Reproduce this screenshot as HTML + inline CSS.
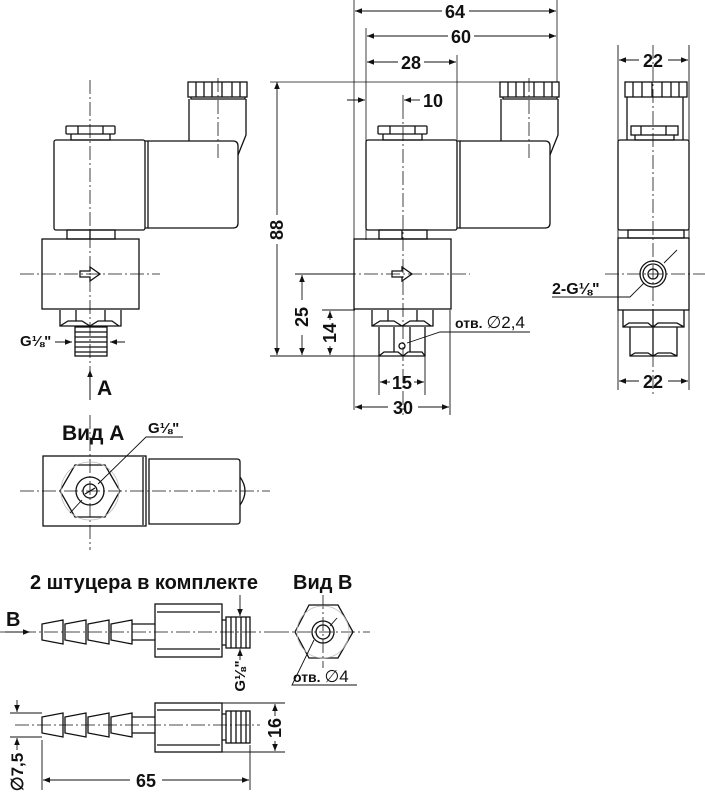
<!DOCTYPE html>
<html><head><meta charset="utf-8"><style>
html,body{margin:0;padding:0;background:#fff}
svg{display:block}
text{font-family:"Liberation Sans",sans-serif;font-weight:bold;fill:#111}
</style></head><body>
<svg width="705" height="800" viewBox="0 0 705 800" xmlns="http://www.w3.org/2000/svg">
<defs>
<marker id="a" viewBox="0 0 10 10" refX="10" refY="5" markerWidth="9" markerHeight="7" orient="auto-start-reverse" markerUnits="userSpaceOnUse"><path d="M0,1 L10,5 L0,9 z" fill="#111"/></marker>
<g id="top" fill="none" stroke="#111" stroke-width="1.3">
 <rect x="188" y="82" width="59" height="15"/>
 <path d="M196,82v15M204,82v15M212,82v15M222,82v15M232,82v15M240,82v15"/>
 <path d="M191,97v2h54v-2"/>
 <path d="M189,99V141M246,99L246,135L238,155"/>
 <rect x="54" y="140" width="91" height="90" rx="2"/>
 <path d="M145,141h3v87h-3"/>
 <path d="M148,141H233Q238,141 238,146V223Q238,228 233,228H148"/>
 <rect x="66" y="126" width="49" height="8" rx="1"/>
 <path d="M71,134v6h39v-6M78,126v8M103,126v8"/>
 <rect x="67" y="230" width="48" height="9"/>
 <path d="M90,230v9"/>
 <rect x="42" y="239" width="97" height="70"/>
 <path d="M80,271h10v-4l10,7l-10,7v-4h-10z"/>
 <path d="M60,310v16h61v-16M60,326l8-5l14,0l8,5l8-5l14,0l7,5M76,310v11M105,310v11"/>
</g>
<g id="barbs" fill="none" stroke="#111" stroke-width="1.3">
 <path d="M42,-8L63,-12V12L42,8Z M65,-8L86,-12V12L65,8Z M88,-8L109,-12V12L88,8Z M111,-8L132,-12V12L111,8Z M132,-8H155M132,8H155"/>
</g>
</defs>

<g stroke="#111" stroke-width="0.8" fill="none">
 <path d="M354,0V410M366,28V240M557,0V82M457,55V140M403,95V105"/>
 <path d="M270,82H557"/>
 <path stroke-dasharray="14,3,2,3" d="M90,80V395M218,78V160M403,105V415M529,78V160M653,45V395M20,274H160M320,274H470M605,274H705M90,415V550M20,491H270M0,632H275M275,632H370M323,595V668M15,725H260"/>
</g>

<use href="#top"/>
<g fill="none" stroke="#111" stroke-width="1.3">
 <rect x="75" y="327" width="32" height="29"/>
 <path d="M75,332h32M75,337h32M75,342h32M75,347h32M75,352h32"/>
</g>
<g stroke="#111" stroke-width="1" fill="none">
 <path d="M55,342H72" marker-end="url(#a)"/>
 <path d="M125,342H110" marker-end="url(#a)"/>
 <path d="M90,400V370" marker-end="url(#a)"/>
</g>
<text x="20" y="346" font-size="15">G⅛"</text>
<text x="97" y="395" font-size="21">A</text>

<use href="#top" transform="translate(312,0)"/>
<g fill="none" stroke="#111" stroke-width="1.3">
 <path d="M379,327v29h46v-29M379,356l5-4h14l5,4l5-4h14l3,4M394,327v25M410,327v25"/>
 <circle cx="402" cy="346" r="3"/>
</g>
<g stroke="#111" stroke-width="0.9" fill="none">
 <path d="M270,356H425M322,310H355M295,274H355M379,356V395M425,356V395M450,310V415"/>
 <path d="M530,332H440L407,343"/>
 <path d="M277,215V82" marker-end="url(#a)"/><path d="M277,244V355" marker-end="url(#a)"/>
 <path d="M302,300V275" marker-end="url(#a)"/><path d="M302,335V355" marker-end="url(#a)"/>
 <path d="M330,320V311" marker-end="url(#a)"/><path d="M330,346V355" marker-end="url(#a)"/>
 <path d="M390,382H380" marker-end="url(#a)"/><path d="M414,382H424" marker-end="url(#a)"/>
 <path d="M388,407H355" marker-end="url(#a)"/><path d="M418,407H449" marker-end="url(#a)"/>
 <path d="M442,11H355" marker-end="url(#a)"/><path d="M469,11H556" marker-end="url(#a)"/>
 <path d="M448,36H367" marker-end="url(#a)"/><path d="M474,36H556" marker-end="url(#a)"/>
 <path d="M398,62H367" marker-end="url(#a)"/><path d="M424,62H456" marker-end="url(#a)"/>
 <path d="M347,100H365" marker-end="url(#a)"/><path d="M420,100H404" marker-end="url(#a)"/>
</g>
<text x="455" y="18" font-size="18" text-anchor="middle">64</text>
<text x="461" y="43" font-size="18" text-anchor="middle">60</text>
<text x="411" y="69" font-size="18" text-anchor="middle">28</text>
<text x="423" y="107" font-size="18">10</text>
<text x="402" y="389" font-size="18" text-anchor="middle">15</text>
<text x="403" y="414" font-size="18" text-anchor="middle">30</text>
<text x="283" y="230" font-size="18" transform="rotate(-90 283 230)" text-anchor="middle">88</text>
<text x="308" y="317" font-size="18" transform="rotate(-90 308 317)" text-anchor="middle">25</text>
<text x="336" y="333" font-size="18" transform="rotate(-90 336 333)" text-anchor="middle">14</text>
<text x="455" y="328" font-size="14">отв. <tspan font-weight="normal" font-size="17">∅2,4</tspan></text>

<g fill="none" stroke="#111" stroke-width="1.3">
 <rect x="625" y="82" width="62" height="15"/>
 <path d="M633,82v15M642,82v15M652,82v15M662,82v15M671,82v15M679,82v15"/>
 <path d="M627,97V140M683,97V140"/>
 <rect x="631" y="126" width="47" height="9"/>
 <path d="M635,135v5h39v-5M641,126v9M666,126v9"/>
 <rect x="618" y="140" width="71" height="90" rx="2"/>
 <rect x="628" y="230" width="56" height="8"/>
 <rect x="618" y="238" width="71" height="72"/>
 <circle cx="653" cy="274" r="13"/><circle cx="653" cy="274" r="10"/><circle cx="653" cy="274" r="5"/>
 <path d="M623,310v17h61v-17M623,327l6-4h19l5,4l5-4h19l7,4M630,327v29h47v-29M630,356l5-3h13l5,3l5-3h13l6,3M653,310v46"/>
</g>
<g stroke="#111" stroke-width="0.9" fill="none">
 <path d="M618,45V390M689,45V390"/>
 <path d="M639,60H619" marker-end="url(#a)"/><path d="M668,60H688" marker-end="url(#a)"/>
 <path d="M639,381H619" marker-end="url(#a)"/><path d="M668,381H688" marker-end="url(#a)"/>
 <path d="M552,297H630L644,283"/>
 <path d="M677,250L664,263"/>
</g>
<text x="653" y="67" font-size="18" text-anchor="middle">22</text>
<text x="653" y="388" font-size="18" text-anchor="middle">22</text>
<text x="552" y="294" font-size="16">2-G⅛"</text>

<text x="62" y="440" font-size="21">Вид A</text>
<g fill="none" stroke="#111" stroke-width="1.3">
 <rect x="43" y="456" width="103" height="70"/>
 <path d="M143,457v68"/>
 <path d="M149,459H237Q240,459 240,462V521Q240,524 237,524H149Z"/>
 <path d="M240,477Q250,491 240,505"/>
 <path d="M60,491L75,465H105L120,491L105,517H75Z"/>
 <circle cx="90" cy="491" r="14"/>
 <circle cx="90" cy="491" r="7"/>
 <path d="M85,494L95,488"/>
</g>
<circle cx="90" cy="491" r="29" fill="none" stroke="#bbb" stroke-width="0.8"/>
<g stroke="#111" stroke-width="0.9" fill="none">
 <path d="M183,437H146L98,484"/><path d="M70,513L82,500"/>
</g>
<text x="148" y="433" font-size="15">G⅛"</text>

<text x="30" y="589" font-size="20">2 штуцера в комплекте</text>
<text x="293" y="589" font-size="20">Вид B</text>
<use href="#barbs" transform="translate(0,632)"/>
<use href="#barbs" transform="translate(0,725)"/>
<g fill="none" stroke="#111" stroke-width="1.3">
 <rect x="155" y="604" width="67" height="53"/>
 <path d="M157,612H220M157,649H220"/>
 <rect x="226" y="617" width="24" height="31"/>
 <path d="M222,620h4M222,645h4M231,617v31M236,617v31M241,617v31M246,617v31"/>
 <rect x="155" y="703" width="67" height="49"/>
 <path d="M157,710H220M157,745H220"/>
 <rect x="226" y="711" width="24" height="32"/>
 <path d="M222,714h4M222,740h4M231,711v32M236,711v32M241,711v32M246,711v32"/>
 <path d="M295,632L309,605H338L353,632L338,658H309Z"/>
 <circle cx="323" cy="632" r="11"/><circle cx="323" cy="632" r="7"/>
</g>
<circle cx="323" cy="632" r="26" fill="none" stroke="#bbb" stroke-width="0.8"/>
<g stroke="#111" stroke-width="0.9" fill="none">
 <path d="M5,632H30" marker-end="url(#a)"/>
 <path d="M240,595V616" marker-end="url(#a)"/><path d="M240,660V649" marker-end="url(#a)"/>
 <path d="M357,685H292L314,640"/><path d="M337,618L330,626"/>
 <path d="M222,703H285M222,752H285"/>
 <path d="M275,716V704" marker-end="url(#a)"/><path d="M275,741V751" marker-end="url(#a)"/>
 <path d="M10,713H42M10,737H42"/>
 <path d="M17,700V712" marker-end="url(#a)"/><path d="M17,750V738" marker-end="url(#a)"/>
 <path d="M42,740V790M250,745V790"/>
 <path d="M130,780H43" marker-end="url(#a)"/><path d="M162,780H249" marker-end="url(#a)"/>
</g>
<text x="6" y="626" font-size="20">B</text>
<text x="245" y="676" font-size="15" transform="rotate(-90 245 676)" text-anchor="middle">G⅛"</text>
<text x="293" y="682" font-size="14">отв. <tspan font-weight="normal" font-size="17">∅4</tspan></text>
<text x="281" y="728" font-size="18" transform="rotate(-90 281 728)" text-anchor="middle">16</text>
<text x="23" y="772" font-size="17" font-weight="normal" transform="rotate(-90 23 772)" text-anchor="middle">∅7,5</text>
<text x="146" y="787" font-size="18" text-anchor="middle">65</text>
</svg>
</body></html>
